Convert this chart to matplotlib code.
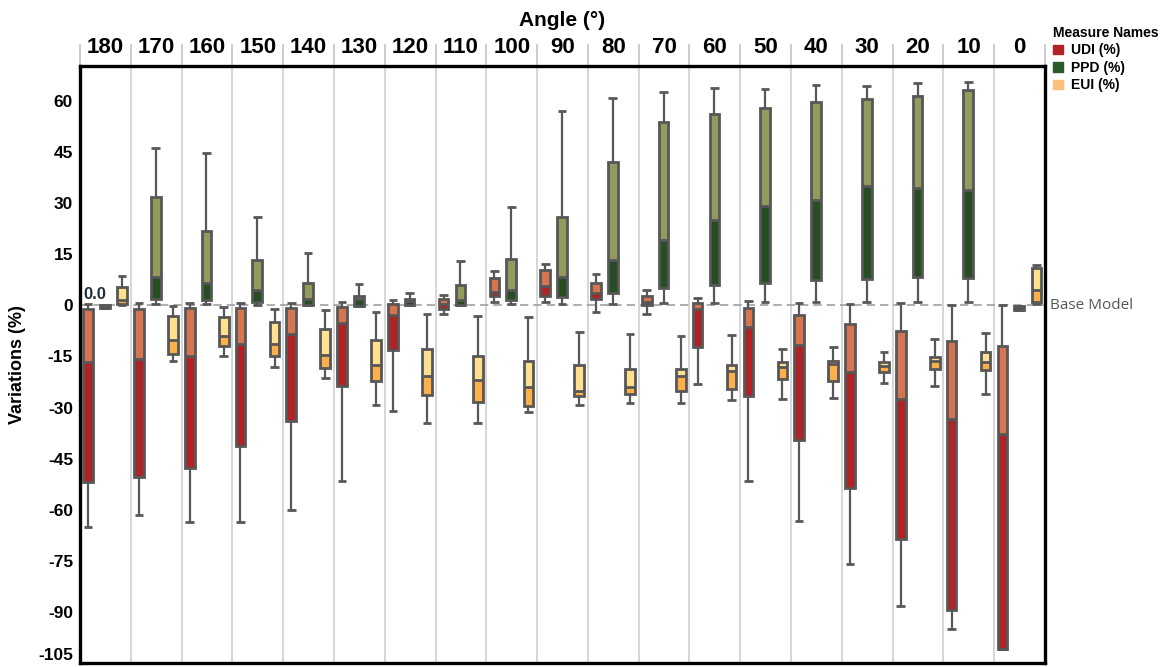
import matplotlib.pyplot as plt
from matplotlib.patches import Patch
from matplotlib.transforms import blended_transform_factory

plt.rcParams['font.family'] = ['Liberation Sans', 'DejaVu Sans']
plt.rcParams['axes.unicode_minus'] = False

angles = [180, 170, 160, 150, 140, 130, 120, 110, 100, 90, 80, 70, 60, 50, 40, 30, 20, 10, 0]

# box stats per angle: upper whisker, q3, median, q1, lower whisker
udi_whi = [0.5, 0.8, 0.6, 0.7, 0.8, 1.0, 1.7, 3.2, 10.0, 12.2, 9.3, 4.6, 2.3, 1.4, 0.8, 0.3, 0.6, 0.0, 0.2]
udi_q3 = [-1.1, -1.1, -0.7, -0.8, -0.7, -0.6, 0.3, 1.9, 8.0, 10.4, 6.6, 2.7, 0.7, -0.8, -2.8, -5.4, -7.6, -10.4, -11.8]
udi_med = [-16.6, -15.8, -14.8, -11.2, -8.5, -5.3, -2.7, 0.3, 3.8, 5.8, 3.7, 0.9, -1.1, -6.2, -11.7, -19.5, -27.4, -33.3, -37.8]
udi_q1 = [-51.8, -50.5, -47.7, -41.2, -33.8, -23.6, -13.0, -1.0, 2.7, 2.8, 1.9, 0.0, -12.2, -26.5, -39.4, -53.5, -68.7, -89.5, -100.8]
udi_wlo = [-65.2, -61.5, -63.5, -63.5, -60.2, -51.7, -31.0, -2.6, 1.0, 1.1, -1.9, -2.6, -23.1, -51.7, -63.2, -75.9, -88.3, -95.1, -100.8]

ppd_whi = [0.0, 46.2, 44.7, 25.9, 15.4, 6.3, 3.6, 13.0, 29.0, 57.0, 61.0, 62.7, 63.7, 63.5, 64.8, 64.3, 65.2, 65.7, -0.3]
ppd_q3 = [0.0, 31.8, 21.8, 13.2, 6.7, 2.9, 1.9, 6.1, 13.5, 26.0, 42.0, 53.8, 56.1, 58.0, 59.7, 60.6, 61.5, 63.2, -0.3]
ppd_med = [-0.3, 8.4, 6.7, 4.4, 1.8, 1.8, 1.2, 1.6, 4.4, 8.4, 13.2, 19.1, 25.2, 29.3, 31.0, 35.2, 34.5, 33.8, -0.8]
ppd_q1 = [-0.7, 1.8, 1.5, 1.1, 0.2, -0.1, 0.0, 0.2, 1.6, 2.5, 3.6, 5.0, 6.0, 6.7, 7.5, 7.9, 8.3, 8.0, -1.4]
ppd_wlo = [-0.7, 0.5, 0.5, 0.2, 0.2, -0.1, 0.0, 0.2, 0.5, 0.5, 0.5, 0.8, 0.8, 1.0, 1.0, 1.0, 1.0, 1.0, -1.4]

eui_whi = [8.6, -0.2, -0.5, -1.0, -1.4, -1.9, -2.6, -3.1, -3.5, -7.8, -8.4, -9.0, -8.6, -12.9, -12.3, -13.7, -10.0, -8.0, 11.8]
eui_q3 = [5.5, -3.1, -3.4, -4.8, -7.0, -10.1, -12.8, -14.8, -16.2, -17.4, -18.6, -18.6, -17.6, -16.6, -16.3, -16.7, -15.2, -13.7, 10.9]
eui_med = [1.6, -10.3, -9.0, -11.4, -14.6, -17.5, -20.6, -21.9, -23.9, -25.1, -23.9, -20.8, -19.2, -18.2, -17.2, -17.9, -16.3, -16.6, 4.4]
eui_q1 = [0.3, -14.4, -12.0, -14.8, -18.4, -22.2, -26.4, -28.3, -29.4, -26.6, -26.1, -25.1, -24.4, -21.6, -22.2, -19.5, -18.6, -18.9, 1.0]
eui_wlo = [0.0, -16.2, -14.9, -18.2, -21.4, -29.3, -34.6, -34.4, -31.4, -29.1, -28.7, -28.7, -27.9, -27.6, -27.3, -22.9, -23.6, -26.0, 0.5]

EDGE = '#575757'


def draw_boxes(ax, pos, whi, q3, med, q1, wlo, light, dark):
    w = 0.19
    cap = 0.17
    ax.vlines(pos, q3, whi, color=EDGE, lw=1.6, zorder=2)
    ax.vlines(pos, wlo, q1, color=EDGE, lw=1.6, zorder=2)
    ax.hlines(whi, [p - cap / 2 for p in pos], [p + cap / 2 for p in pos], color=EDGE, lw=2, zorder=2)
    ax.hlines(wlo, [p - cap / 2 for p in pos], [p + cap / 2 for p in pos], color=EDGE, lw=2, zorder=2)
    ax.bar(pos, [m - a for m, a in zip(med, q1)], bottom=q1, width=w, color=dark, zorder=3)
    ax.bar(pos, [b - m for b, m in zip(q3, med)], bottom=med, width=w, color=light, zorder=3)
    ax.bar(pos, [b - a for b, a in zip(q3, q1)], bottom=q1, width=w, fill=False,
           edgecolor=EDGE, linewidth=2, zorder=4)
    ax.hlines(med, [p - w / 2 for p in pos], [p + w / 2 for p in pos], color=EDGE, lw=2, zorder=4)


fig = plt.figure(figsize=(11.65, 6.67), dpi=100)
ax = fig.add_axes([80 / 1165, 4 / 667, 965 / 1165, 597 / 667])

n = len(angles)
idx = list(range(n))
draw_boxes(ax, [i + 0.16 for i in idx], udi_whi, udi_q3, udi_med, udi_q1, udi_wlo, '#d87551', '#b02226')
draw_boxes(ax, [i + 0.49 for i in idx], ppd_whi, ppd_q3, ppd_med, ppd_q1, ppd_wlo, '#949a5b', '#274d22')
draw_boxes(ax, [i + 0.83 for i in idx], eui_whi, eui_q3, eui_med, eui_q1, eui_wlo, '#fee08f', '#fdb04a')

ax.set_xlim(0, n)
ax.set_ylim(-104.9, 70.3)

# panel dividers
ax.vlines(range(1, n), -110, 80, color='#d3d3d3', lw=1.3, zorder=0)
trans = blended_transform_factory(ax.transData, ax.transAxes)
for i in range(n + 1):
    ax.plot([i, i], [1.0, 1.036], transform=trans, color='#c8c8c8', lw=1.3, clip_on=False)
for i, a in enumerate(angles):
    ax.text(i + 0.5, 1.031, str(a), transform=trans, ha='center', va='center',
            fontsize=16, fontweight='bold')

# base model line
ax.axhline(0, color='#a0a0a0', lw=1.2, ls=(0, (5, 3)), zorder=1)
ax.text(1.005, 0, 'Base Model', transform=blended_transform_factory(ax.transAxes, ax.transData),
        ha='left', va='center', fontsize=11, color='#555555', family=['Open Sans', 'DejaVu Sans'])
ax.text(0.29, 0.9, '0.0', ha='center', va='bottom', fontsize=12, fontweight='bold', color='#1d2b3a')

ax.set_xticks([])
ax.set_yticks(range(60, -106, -15))
ax.tick_params(axis='y', length=0, pad=5, labelsize=12.5)
for lab in ax.get_yticklabels():
    lab.set_fontweight('bold')
    if lab.get_text() == '-105':
        lab.set_va('bottom')
for s in ax.spines.values():
    s.set_linewidth(2.4)
    s.set_color('black')

fig.text(562 / 1165, 1 - 21 / 667, 'Angle (°)', ha='center', va='center', fontsize=15, fontweight='bold')
fig.text(18 / 1165, 1 - 365 / 667, 'Variations (%)', ha='center', va='center', rotation=90,
         fontsize=13, fontweight='bold')

handles = [Patch(color='#b02226', label='UDI (%)'),
           Patch(color='#2a5a2a', label='PPD (%)'),
           Patch(color='#fdbf7a', label='EUI (%)')]
leg = fig.legend(handles=handles, loc='upper left', bbox_to_anchor=(1053 / 1165, 1 - 26 / 667),
                 frameon=False, title='Measure Names', alignment='left',
                 handlelength=0.7, handleheight=0.7, handletextpad=0.6, labelspacing=0.25,
                 borderpad=0, borderaxespad=0, prop={'weight': 'bold', 'size': 10})
leg.get_title().set_fontweight('bold')
leg.get_title().set_fontsize(10)

fig.savefig('out.png', dpi=100)
